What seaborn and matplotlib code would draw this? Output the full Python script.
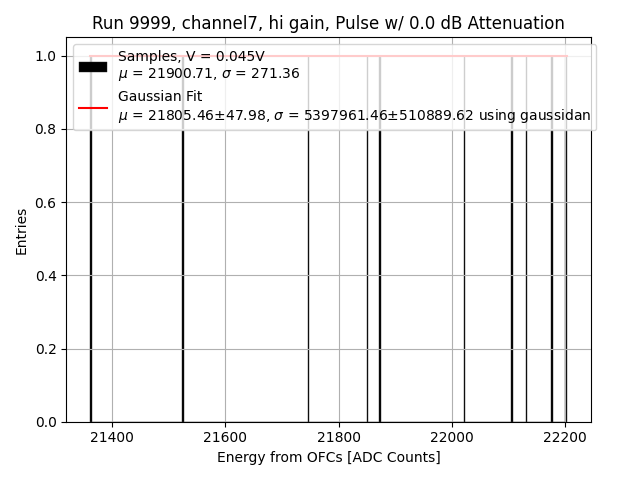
import numpy as np
import matplotlib
matplotlib.use("Agg")
import matplotlib.pyplot as plt
import seaborn as sns

# --- data ---
samples = [21361.5, 21526.5, 21746.5, 21851.0, 21873.0,
           22021.5, 22107.0, 22131.5, 22177.0, 22203.0]
fit_mu = 21805.46
fit_mu_err = 47.98
fit_sigma = 5397961.46
fit_sigma_err = 510889.62
n_bins = 300

fig, ax = plt.subplots(figsize=(6.4, 4.8), dpi=100)

sns.histplot(x=samples, bins=n_bins, color="black", edgecolor="#222222",
             linewidth=0.3, alpha=1.0, ax=ax,
             label=f"Samples, V = 0.045V\n$\\mu$ = {21900.71:.2f}, $\\sigma$ = {271.36:.2f}")

# gaussian fit curve over the sample range
xs = np.linspace(min(samples), max(samples), 200)
ys = np.exp(-0.5 * ((xs - fit_mu) / fit_sigma) ** 2)
ax.plot(xs, ys, color="red",
        label=f"Gaussian Fit\n$\\mu$ = {fit_mu:.2f}$\\pm${fit_mu_err:.2f}, "
              f"$\\sigma$ = {fit_sigma:.2f}$\\pm${fit_sigma_err:.2f} using gaussidan")

ax.set_title("Run 9999, channel7, hi gain, Pulse w/ 0.0 dB Attenuation")
ax.set_xlabel("Energy from OFCs [ADC Counts]")
ax.set_ylabel("Entries")
ax.set_yticks([0.0, 0.2, 0.4, 0.6, 0.8, 1.0])
ax.grid(True)

# samples first, then the fit
handles, labels = ax.get_legend_handles_labels()
ax.legend(handles[::-1], labels[::-1], loc="upper left")

plt.tight_layout()
plt.savefig("out.png")
